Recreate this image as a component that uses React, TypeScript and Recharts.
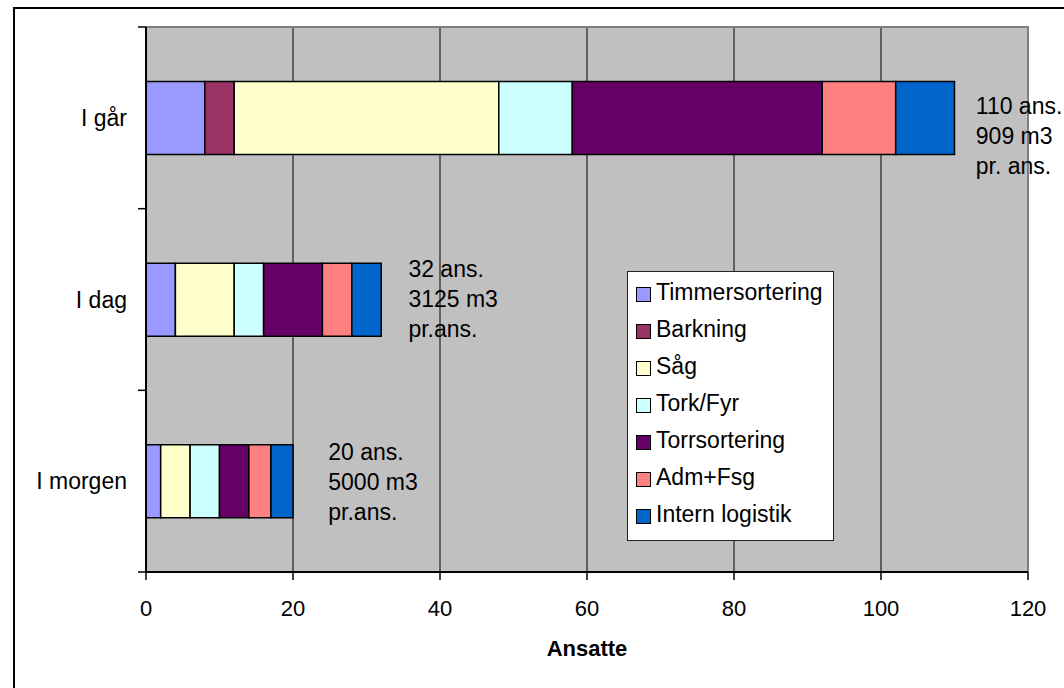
import React from 'react';
import { BarChart, Bar, XAxis, YAxis, CartesianGrid, Legend, ReferenceDot, ReferenceArea } from 'recharts';

const categories = ['I går', 'I dag', 'I morgen'];
const timmersortering = [8, 4, 2];
const barkning = [4, 0, 0];
const sag = [36, 8, 4];
const torkFyr = [10, 4, 4];
const torrsortering = [34, 8, 4];
const admFsg = [10, 4, 3];
const internLogistik = [8, 4, 3];
const xTicks = [0, 20, 40, 60, 80, 100, 120];

const annotationLines = [
  ['110 ans.', '909 m3', 'pr. ans.'],
  ['32 ans.', '3125 m3', 'pr.ans.'],
  ['20 ans.', '5000 m3', 'pr.ans.'],
];
const annotationX = [112.9, 35.7, 24.8];

const seriesDefs = [
  { key: 'Timmersortering', values: timmersortering, color: '#9999FF' },
  { key: 'Barkning', values: barkning, color: '#993366' },
  { key: 'Såg', values: sag, color: '#FFFFCC' },
  { key: 'Tork/Fyr', values: torkFyr, color: '#CCFFFF' },
  { key: 'Torrsortering', values: torrsortering, color: '#660066' },
  { key: 'Adm+Fsg', values: admFsg, color: '#FF8080' },
  { key: 'Intern logistik', values: internLogistik, color: '#0066CC' },
];
const seriesOrder = seriesDefs.map((s) => s.key);

const data = categories.map((c, i) => {
  const row: any = { name: c };
  seriesDefs.forEach((s) => (row[s.key] = s.values[i]));
  return row;
});

// layout constants
const W = 1064;
const H = 688;
const PLOT_LEFT = 146;
const PLOT_TOP = 27;
const PLOT_BOTTOM = 572;
const PLOT_RIGHT = 1028;
const BAND = (PLOT_BOTTOM - PLOT_TOP) / categories.length;
const FONT = '"Liberation Sans", Arial, sans-serif';
const TEXT_SIZE = 23;
const annotationDy = [-12, -31, -29];

const YTick = (props: any) => {
  const { y, payload, index } = props;
  const cy = payload.coordinate ?? y;
  return (
    <g>
      <text x={PLOT_LEFT - 19} y={cy} dy={8} textAnchor="end" fontSize={TEXT_SIZE} fontFamily={FONT} fill="#000">
        {payload.value}
      </text>
      <line x1={PLOT_LEFT - 8} x2={PLOT_LEFT} y1={cy - BAND / 2} y2={cy - BAND / 2} stroke="#000" strokeWidth={1.5} />
      {index === categories.length - 1 && (
        <line x1={PLOT_LEFT - 8} x2={PLOT_LEFT} y1={cy + BAND / 2} y2={cy + BAND / 2} stroke="#000" strokeWidth={1.5} />
      )}
    </g>
  );
};

const LegendContent = (props: any) => {
  const payload = [...(props.payload || [])].sort(
    (a: any, b: any) => seriesOrder.indexOf(a.value) - seriesOrder.indexOf(b.value)
  );
  return (
    <div
      style={{
        border: '1px solid #222',
        background: '#fff',
        width: 205,
        height: 266,
        paddingTop: 2,
        boxSizing: 'content-box',
        fontFamily: FONT,
        fontSize: TEXT_SIZE,
        color: '#000',
      }}
    >
      {payload.map((p: any) => (
        <div key={p.value} style={{ height: 37, display: 'flex', alignItems: 'center', paddingLeft: 8 }}>
          <span
            style={{
              display: 'inline-block',
              width: 13,
              height: 13,
              background: p.color,
              border: '1.5px solid #000',
              marginRight: 5,
              marginTop: 3,
            }}
          />
          <span style={{ whiteSpace: 'nowrap' }}>{p.value}</span>
        </div>
      ))}
    </div>
  );
};

const makeAnnotation = (i: number) => (props: any) => {
  const vb = props.viewBox || {};
  const x = vb.x + (vb.width || 0) / 2;
  const y = vb.y + (vb.height || 0) / 2 + annotationDy[i];
  return (
    <text x={x} y={y} fontSize={TEXT_SIZE} fontFamily={FONT} fill="#000">
      {annotationLines[i].map((l, j) => (
        <tspan key={j} x={x} y={y + 8 + j * 30}>
          {l}
        </tspan>
      ))}
    </text>
  );
};

export default function App() {
  return (
    <div style={{ position: 'absolute', left: 0, top: 0, width: W, height: H, background: '#fff', overflow: 'hidden' }}>
      <div
        style={{
          position: 'absolute',
          left: 13,
          top: 7,
          width: W,
          height: H,
          borderLeft: '2.5px solid #000',
          borderTop: '2.5px solid #000',
        }}
      />
      <div style={{ position: 'absolute', left: 0, top: 0 }}>
        <BarChart
          width={W}
          height={H}
          data={data}
          layout="vertical"
          margin={{ top: PLOT_TOP, right: W - PLOT_RIGHT, left: 0, bottom: 0 }}
          barCategoryGap="30%"
        >
          <CartesianGrid horizontal={false} vertical={true} stroke="#000" strokeWidth={1} fill="#C0C0C0" fillOpacity={1} />
          <ReferenceArea x1={0} x2={120} fill="none" stroke="#808080" strokeWidth={2} ifOverflow="visible" />
          <XAxis
            type="number"
            domain={[0, 120]}
            ticks={xTicks}
            height={H - PLOT_BOTTOM}
            tickSize={8}
            tickMargin={20}
            tick={{ fontSize: 22, fill: '#000', fontFamily: FONT }}
            tickLine={{ stroke: '#000', strokeWidth: 1.5 }}
            axisLine={{ stroke: '#000', strokeWidth: 2 }}
            label={{
              value: 'Ansatte',
              position: 'insideBottom',
              offset: 32,
              style: { fontSize: 22, fontWeight: 'bold', fill: '#000', fontFamily: FONT },
            }}
          />
          <YAxis
            type="category"
            dataKey="name"
            width={PLOT_LEFT}
            tick={<YTick />}
            tickLine={false}
            axisLine={{ stroke: '#000', strokeWidth: 2 }}
            interval={0}
          />
          <Legend
            layout="vertical"
            align="center"
            verticalAlign="middle"
            content={<LegendContent />}
            wrapperStyle={{ left: 627, top: 271, width: 207, height: 269 }}
          />
          {seriesDefs.map((s) => (
            <Bar
              key={s.key}
              dataKey={s.key}
              stackId="a"
              fill={s.color}
              stroke="#000"
              strokeWidth={1.5}
              isAnimationActive={false}
            />
          ))}
          {categories.map((c, i) => (
            <ReferenceDot
              key={c}
              x={annotationX[i]}
              y={c}
              r={0}
              fill="none"
              stroke="none"
              ifOverflow="visible"
              label={makeAnnotation(i)}
            />
          ))}
        </BarChart>
      </div>
    </div>
  );
}
